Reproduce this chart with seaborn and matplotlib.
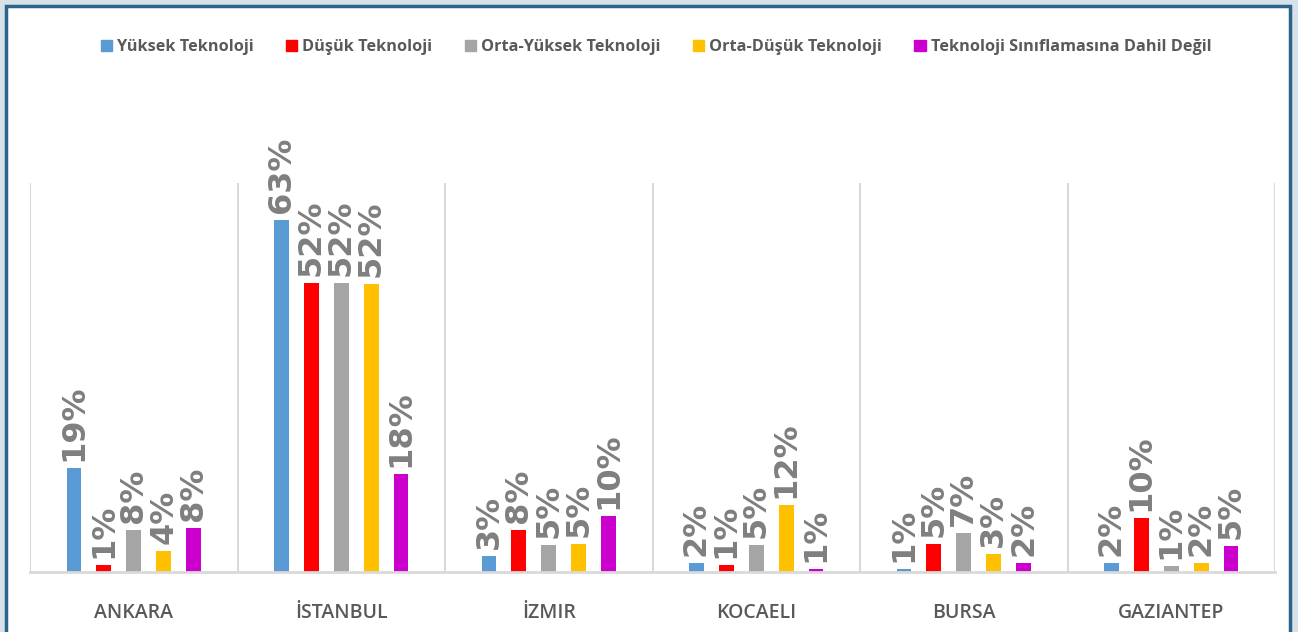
import pandas as pd
import matplotlib.pyplot as plt
import matplotlib.patches as mpatches
import seaborn as sns

# 値（%）
cities = ["ANKARA", "İSTANBUL", "İZMIR", "KOCAELI", "BURSA", "GAZIANTEP"]
series = ["Yüksek Teknoloji", "Düşük Teknoloji", "Orta-Yüksek Teknoloji",
          "Orta-Düşük Teknoloji", "Teknoloji Sınıflamasına Dahil Değil"]
yuksek = [18.7, 63.4, 2.8, 1.6, 0.6, 1.6]
dusuk = [1.3, 52.0, 7.6, 1.3, 5.1, 9.7]
orta_yuksek = [7.6, 52.0, 4.9, 4.9, 7.0, 1.0]
orta_dusuk = [3.8, 51.8, 5.1, 12.1, 3.2, 1.6]
dahil_degil = [7.9, 17.6, 10.0, 0.6, 1.7, 4.6]
colors = ["#5b9bd5", "#ff0000", "#a5a5a5", "#ffc000", "#cc00cc"]

values = [yuksek, dusuk, orta_yuksek, orta_dusuk, dahil_degil]
rows = []
for s, vals in zip(series, values):
    for c, v in zip(cities, vals):
        rows.append({"city": c, "series": s, "value": v})
df = pd.DataFrame(rows)

sns.set_style("white")
plt.rcParams['font.family'] = ['Open Sans', 'DejaVu Sans']

fig = plt.figure(figsize=(12.98, 6.32), dpi=100)
fig.patch.set_facecolor("#d6e1ea")
# beyaz çerçeve
frame = mpatches.Rectangle((6 / 1298, -0.05), 1284 / 1298, 1.05 - 6 / 632,
                           transform=fig.transFigure, facecolor="white",
                           edgecolor="#2b6488", linewidth=2.5, zorder=-10)
fig.patches.append(frame)

ax = fig.add_axes([30 / 1298, 60 / 632, 1245 / 1298, 389 / 632])
ax.set_zorder(1)
ax.set_facecolor("none")
sns.barplot(data=df, x="city", y="value", hue="series", palette=colors,
            width=0.72, gap=0.5, saturation=1, ax=ax, legend=False, linewidth=0)

for cont in ax.containers:
    ax.bar_label(cont, labels=[f"{b.get_height():.0f}%" for b in cont],
                 rotation=90, padding=5, fontsize=23, fontweight="bold",
                 color="#7f7f7f", family="DejaVu Sans")

ax.set_ylim(0, 70)
ax.set_xlim(-0.5, len(cities) - 0.5)
for x in range(len(cities) + 1):
    ax.axvline(x - 0.5, color="#d9d9d9", linewidth=1.5, zorder=0)
ax.set_yticks([])
ax.set_xlabel("")
ax.set_ylabel("")
for sp in ["top", "left", "right"]:
    ax.spines[sp].set_visible(False)
ax.spines["bottom"].set_color("#d9d9d9")
ax.spines["bottom"].set_linewidth(2)
ax.tick_params(axis="x", length=0, pad=22)
for t in ax.get_xticklabels():
    t.set_fontsize(14)
    t.set_color("#595959")
    t.set_fontweight("semibold")

handles = [mpatches.Patch(color=c, label=s) for c, s in zip(colors, series)]
leg = fig.legend(handles=handles, loc="center", bbox_to_anchor=(656 / 1298, 1 - 47 / 632),
                 ncol=5, frameon=False, handlelength=0.7, handleheight=0.7,
                 handletextpad=0.3, columnspacing=2.0,
                 prop={"family": "Open Sans", "weight": "bold", "size": 11.7})
for t in leg.get_texts():
    t.set_color("#595959")

plt.savefig("out.png", dpi=100, facecolor=fig.get_facecolor())
